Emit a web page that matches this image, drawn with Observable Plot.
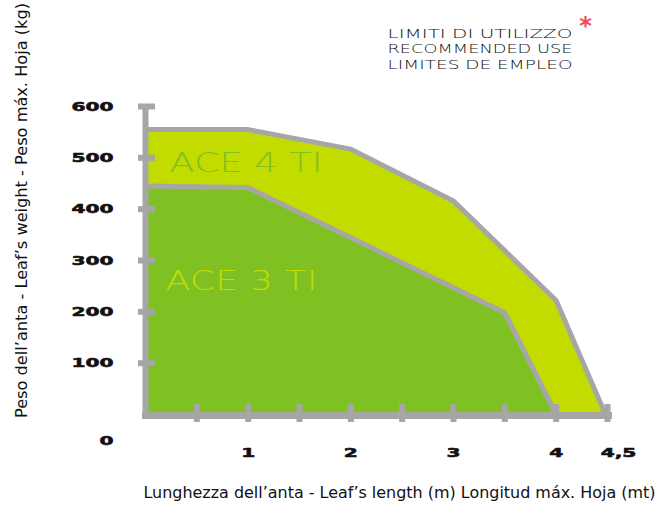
<!DOCTYPE html>
<html>
<head>
<meta charset="utf-8">
<script src="https://cdn.jsdelivr.net/npm/d3@7"></script>
<script src="https://cdn.jsdelivr.net/npm/@observablehq/plot@0.6"></script>
<style>
  body { margin: 0; background: #fff; }
</style>
</head>
<body>
<script>
// ---- data ----
const seriesNames = ["ACE 4 TI", "ACE 3 TI"];
const ace4Length = [0, 1, 2, 3, 4, 4.48];
const ace4Weight = [555, 555, 517, 416, 222, 0];
const ace3Length = [0, 1, 3.5, 4];
const ace3Weight = [445, 442, 198, 0];
const yTickValues = [100, 200, 300, 400, 500, 600];
const yTickLabels = ["100", "200", "300", "400", "500", "600"];
const xTickMarks = [0.5, 1, 1.5, 2, 2.5, 3, 3.5, 4, 4.5];
const xTickValues = [1, 2, 3, 4];
const xTickLabels = ["1", "2", "3", "4"];
const xLastTick = [4.5];
const xLastLabel = ["4,5"];
const zeroLabel = ["0"];
const titleLines = ["LIMITI DI UTILIZZO", "RECOMMENDED USE", "LIMITES DE EMPLEO"];
const xTitle = "Lunghezza dell\u2019anta - Leaf\u2019s length (m) Longitud máx. Hoja (mt)";
const yTitle = "Peso dell\u2019anta - Leaf\u2019s weight - Peso máx. Hoja (kg)";

const ace4 = ace4Length.map((x, i) => ({x, y: ace4Weight[i]}));
const ace3 = ace3Length.map((x, i) => ({x, y: ace3Weight[i]}));

const LIGHT = "#c3dc00";
const DARK = "#7fc022";
const GRAY = "#a6a6a6";
const numFont = "DejaVu Sans";
const thinFont = "DejaVu Sans";
const numStyle = {fontFamily: numFont, fontWeight: "bold", fontSize: 13, fill: "#111", stroke: "#111", strokeWidth: 0.6, lineAnchor: "middle"};

const chart = Plot.plot({
  width: 655,
  height: 507,
  marginLeft: 145,
  marginRight: 48,
  marginTop: 106,
  marginBottom: 93,
  x: {domain: [0, 4.5], axis: null},
  y: {domain: [0, 600], axis: null},
  style: {background: "white", overflow: "visible"},
  marks: [
    Plot.areaY(ace4, {x: "x", y: "y", fill: LIGHT}),
    Plot.areaY(ace3, {x: "x", y: "y", fill: DARK}),
    Plot.line(ace4, {x: "x", y: "y", stroke: GRAY, strokeWidth: 5}),
    Plot.line(ace3, {x: "x", y: "y", stroke: GRAY, strokeWidth: 5}),
    // axes lines
    Plot.ruleX([0], {stroke: GRAY, strokeWidth: 6, insetBottom: -5}),
    Plot.ruleY([0], {stroke: GRAY, strokeWidth: 7, dy: 1, insetLeft: -3, insetRight: -5}),
    Plot.ruleY(yTickValues, {y: d => d, stroke: GRAY, strokeWidth: 6, insetLeft: -7, insetRight: 452}),
    Plot.ruleX(xTickMarks, {x: d => d, stroke: GRAY, strokeWidth: 6, insetTop: 298, insetBottom: -8}),
    // tick labels
    Plot.text(yTickValues, {y: d => d, text: (d, i) => yTickLabels[i], frameAnchor: "left", dx: -32, textAnchor: "end", ...numStyle}),
    Plot.text(zeroLabel, {frameAnchor: "bottom-left", dx: -32, dy: 26, textAnchor: "end", ...numStyle}),
    Plot.text(xTickValues, {x: d => d, text: (d, i) => xTickLabels[i], frameAnchor: "bottom", dy: 38, textAnchor: "middle", ...numStyle}),
    Plot.text(xLastTick, {x: d => d, text: (d, i) => xLastLabel[i], frameAnchor: "bottom", dy: 38, dx: 11, textAnchor: "middle", ...numStyle}),
    // series labels
    Plot.text([seriesNames[0]], {frameAnchor: "top-left", dx: 24, dy: 57, textAnchor: "start", lineAnchor: "middle", fontFamily: thinFont, fontWeight: 200, fontSize: 27, fill: DARK}),
    Plot.text([seriesNames[1]], {frameAnchor: "top-left", dx: 20, dy: 175, textAnchor: "start", lineAnchor: "middle", fontFamily: thinFont, fontWeight: 200, fontSize: 26, fill: LIGHT}),
    // title
    ...titleLines.map((t, i) => Plot.text([t], {frameAnchor: "top-left", dx: 242, dy: [-73, -58, -42][i], textAnchor: "start", lineAnchor: "middle", fontFamily: thinFont, fontWeight: 300, fontSize: 13, fill: "#111"})),
    Plot.text(["*"], {frameAnchor: "top-left", dx: 440, dy: -80, textAnchor: "middle", lineAnchor: "middle", fontFamily: thinFont, fontWeight: "bold", fontSize: 24, fill: "#ee4b5a"}),
    // axis titles
    Plot.text([xTitle], {frameAnchor: "bottom-left", dx: -2, dy: 79, textAnchor: "start", lineAnchor: "middle", fontFamily: "DejaVu Sans", fontSize: 15, fill: "#111"}),
    Plot.text([yTitle], {frameAnchor: "top-left", dx: -123, dy: 104, rotate: -90, textAnchor: "middle", lineAnchor: "middle", fontFamily: "DejaVu Sans", fontSize: 15, fill: "#111"})
  ]
});
document.body.append(chart);

// post-process: stretch texts horizontally to match the reference's extended typefaces
const numbers = new Set([...yTickLabels, ...xTickLabels, ...xLastLabel, ...zeroLabel]);
const fixedLengths = new Map([
  [seriesNames[0], 153], [seriesNames[1], 152],
  ...titleLines.map(t => [t, 185]),
  [xTitle, 512], [yTitle, 415]
]);
chart.querySelectorAll("text").forEach(node => {
  const s = node.textContent;
  let len = null;
  if (numbers.has(s)) len = node.getComputedTextLength() * 1.55;
  else if (fixedLengths.has(s)) len = fixedLengths.get(s);
  if (len != null) {
    node.setAttribute("textLength", len);
    node.setAttribute("lengthAdjust", "spacingAndGlyphs");
  }
});
</script>
</body>
</html>
